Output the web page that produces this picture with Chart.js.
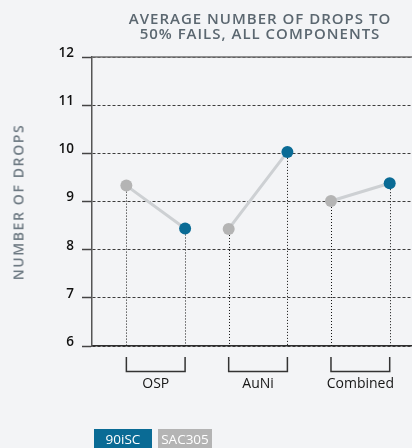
<!DOCTYPE html>
<html>
<head>
<meta charset="utf-8">
<script src="https://cdn.jsdelivr.net/npm/chart.js@4"></script>
<style>
  html, body { margin: 0; padding: 0; background: #f3f4f6; overflow: hidden; }
  #wrap { position: relative; width: 412px; height: 448px; font-family: "Open Sans", sans-serif; }
  #chart { position: absolute; left: 0; top: 0; }
  #title {
    position: absolute; left: 108px; right: 0; top: 11px;
    text-align: center; font-size: 15px; line-height: 15px; font-weight: 600;
    letter-spacing: 1px; color: #5b6770;
  }
  #ytitle {
    position: absolute; left: 18px; top: 202px; width: 200px; margin-left: -100px;
    text-align: center; transform: translateY(-50%) rotate(-90deg);
    font-size: 14px; font-weight: 600; letter-spacing: 1.6px; color: #6e7a83;
  }
  #legend { position: absolute; left: 94px; top: 429px; display: flex; gap: 6px; }
  #legend span {
    display: block; height: 22px; line-height: 20px; color: #fff;
    font-size: 13.5px; font-weight: 500; text-align: center;
  }
</style>
</head>
<body>
<div id="wrap">
  <canvas id="chart" width="412" height="448"></canvas>
  <div id="title">AVERAGE NUMBER OF DROPS TO<br>50% FAILS, ALL COMPONENTS</div>
  <div id="ytitle">NUMBER OF DROPS</div>
  <div id="legend"></div>
</div>
<script>
const groups = ['OSP', 'AuNi', 'Combined'];
const sac305 = [9.33, 8.43, 9.01];
const iSC90 = [8.44, 10.03, 9.38];
const yTicks = [6, 7, 8, 9, 10, 11, 12];

const seriesNames = ['90iSC', 'SAC305'];
const seriesColors = ['#0a6b95', '#b4b4b4'];
const connectorColor = '#cdd0d3';

// the two points of a group sit either side of the group centre
const offset = 0.287;

const legendWidths = [58, 54];
const legend = document.getElementById('legend');
seriesNames.forEach((name, i) => {
  const s = document.createElement('span');
  s.textContent = name;
  s.style.background = seriesColors[i];
  s.style.width = legendWidths[i] + 'px';
  legend.appendChild(s);
});

const sacPoints = groups.map((g, i) => ({ x: i - offset, y: sac305[i] }));
const iscPoints = groups.map((g, i) => ({ x: i + offset, y: iSC90[i] }));
const connectorPoints = [];
groups.forEach((g, i) => {
  connectorPoints.push(sacPoints[i], iscPoints[i], { x: i + 0.5, y: null });
});

// dotted drop lines under the points and brackets under each group
const decorations = {
  id: 'decorations',
  beforeDatasetsDraw(chart) {
    const { ctx, scales: { x, y }, chartArea } = chart;
    ctx.save();
    ctx.strokeStyle = '#111';
    ctx.lineWidth = 1;
    ctx.setLineDash([1, 2]);
    [...sacPoints, ...iscPoints].forEach((p) => {
      const px = Math.round(x.getPixelForValue(p.x)) + 0.5;
      ctx.beginPath();
      ctx.moveTo(px, y.getPixelForValue(p.y));
      ctx.lineTo(px, chartArea.bottom);
      ctx.stroke();
    });
    ctx.restore();
  },
  afterDraw(chart) {
    const { ctx, scales: { x }, chartArea } = chart;
    ctx.save();
    // solid frame line along the top
    ctx.strokeStyle = '#6f6f6f';
    ctx.lineWidth = 1.5;
    ctx.beginPath();
    ctx.moveTo(chartArea.left, chartArea.top);
    ctx.lineTo(chartArea.right, chartArea.top);
    ctx.stroke();

    ctx.strokeStyle = '#333';
    ctx.lineWidth = 1.5;
    groups.forEach((g, i) => {
      const x1 = x.getPixelForValue(i - offset);
      const x2 = x.getPixelForValue(i + offset);
      const y1 = chartArea.bottom + 11;
      const y2 = chartArea.bottom + 25.5;
      ctx.beginPath();
      ctx.moveTo(x1, y1);
      ctx.lineTo(x1, y2);
      ctx.lineTo(x2, y2);
      ctx.lineTo(x2, y1);
      ctx.stroke();
    });
    ctx.restore();
  }
};

const ctx = document.getElementById('chart').getContext('2d');
new Chart(ctx, {
  type: 'line',
  data: {
    datasets: [
      {
        label: seriesNames[0],
        data: iscPoints,
        showLine: false,
        pointRadius: 6,
        pointHoverRadius: 6,
        pointBackgroundColor: seriesColors[0],
        pointBorderWidth: 0,
        clip: false,
        order: 0,
      },
      {
        label: seriesNames[1],
        data: sacPoints,
        showLine: false,
        pointRadius: 6,
        pointHoverRadius: 6,
        pointBackgroundColor: seriesColors[1],
        pointBorderWidth: 0,
        clip: false,
        order: 1,
      },
      {
        label: 'connector',
        data: connectorPoints,
        borderColor: connectorColor,
        borderWidth: 3,
        pointRadius: 0,
        spanGaps: false,
        clip: false,
        order: 2,
      },
    ],
  },
  options: {
    responsive: false,
    animation: false,
    layout: {
      autoPadding: false,
      padding: { top: 57, right: 0, bottom: 0, left: 0 },
    },
    plugins: {
      legend: { display: false },
      tooltip: { enabled: false },
    },
    scales: {
      x: {
        type: 'linear',
        min: -0.623,
        max: 2.505,
        afterFit(scale) {
          scale.height = 102;
          scale.paddingLeft = 0;
          scale.paddingRight = 0;
        },
        afterBuildTicks(scale) {
          scale.ticks = groups.map((g, i) => ({ value: i }));
        },
        ticks: {
          callback: (value) => groups[value],
          padding: 30,
          maxRotation: 0,
          autoSkip: false,
          color: '#161616',
          font: { family: 'Open Sans', size: 14, weight: '500' },
        },
        grid: { display: false, drawTicks: false },
        border: { display: true, color: '#2e2e2e', width: 1.5 },
      },
      y: {
        min: 6,
        max: 12,
        afterFit(scale) {
          scale.width = 92;
          scale.paddingTop = 0;
          scale.paddingBottom = 0;
        },
        afterBuildTicks(scale) {
          scale.ticks = yTicks.map((v) => ({ value: v }));
        },
        ticks: {
          padding: 8,
          labelOffset: -4,
          color: '#111',
          font: { family: 'Open Sans', size: 13.5, weight: '600' },
        },
        grid: {
          color: '#3c3c3c',
          lineWidth: 1,
          tickLength: 10,
          tickColor: '#444',
          tickWidth: 1.5,
        },
        border: {
          display: true,
          color: '#555',
          width: 1.5,
          dash: [3, 2],
        },
      },
    },
  },
  plugins: [decorations],
});
</script>
</body>
</html>
